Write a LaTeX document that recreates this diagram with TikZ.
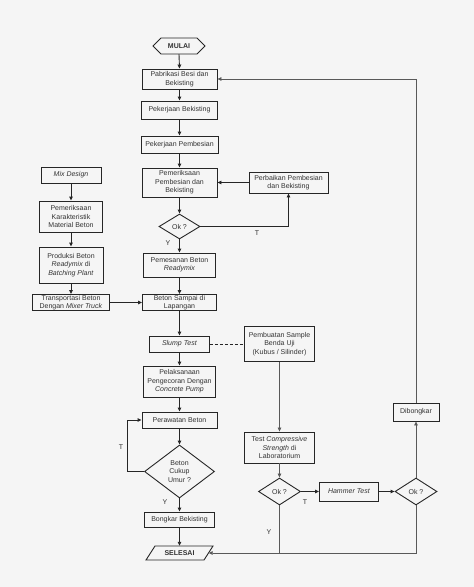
\documentclass[tikz,border=0pt]{standalone}
\usepackage{fontspec}
\setmainfont{Liberation Sans}
\usetikzlibrary{shapes.geometric,arrows.meta}
\begin{document}
\begin{tikzpicture}[x=1pt,y=-1pt,
  every node/.style={font=\fontsize{7}{8.6}\selectfont, text=black!80},
  box/.style={draw=black!85, line width=0.9pt, inner sep=0pt, align=center},
  dec/.style={diamond, draw=black!85, line width=0.9pt, inner sep=0pt, align=center},
  plain/.style={inner sep=0pt, align=center},
  arr/.style={draw=black!85, line width=0.9pt, -{Triangle[length=4pt,width=3.6pt]}},
  ln/.style={draw=black!85, line width=0.9pt},
  garr/.style={draw=black!65, line width=0.7pt, -{Triangle[length=4pt,width=3.6pt]}},
  gln/.style={draw=black!65, line width=0.7pt},
  lbl/.style={inner sep=0pt, font=\fontsize{7}{8}\selectfont}]
\fill[black!4] (0,0) rectangle (474,587);
\useasboundingbox (0,0) rectangle (474,587);

% start / end shapes
\draw[box] (153,46) -- (161,38) -- (197,38) -- (205,46) -- (197,54) -- (161,54) -- cycle;
\node[plain, minimum width=52pt, minimum height=16pt, font=\fontsize{7}{8.6}\selectfont\bfseries] (mulai) at (179,46) {MULAI};
\draw[box] (146,560) -- (155,546) -- (213,546) -- (204,560) -- cycle;
\node[plain, minimum width=58pt, minimum height=14pt, font=\fontsize{7}{8.6}\selectfont\bfseries] (sls) at (179.5,553) {SELESAI};

% main column
\node[box, minimum width=75pt, minimum height=20pt] (pab) at (179.5,79) {Pabrikasi Besi dan\\Bekisting};
\node[box, minimum width=76pt, minimum height=18pt] (pbk) at (179.5,110) {Pekerjaan Bekisting};
\node[box, minimum width=77pt, minimum height=17pt] (ppb) at (179.5,144.5) {Pekerjaan Pembesian};
\node[box, minimum width=75pt, minimum height=29pt] (pmr) at (179.5,182.5) {Pemeriksaan\\Pembesian dan\\Bekisting};
\node[box, minimum width=79pt, minimum height=21pt] (pbr) at (288.5,182.5) {Perbaikan Pembesian\\dan Bekisting};
\node[dec, minimum width=41pt, minimum height=25pt] (ok1) at (179.5,226.5) {Ok ?};
\node[box, minimum width=72pt, minimum height=24pt] (pms) at (179.5,265) {Pemesanan Beton\\\textit{Readymix}};
\node[box, minimum width=74pt, minimum height=16pt] (bsp) at (179.5,302.5) {Beton Sampai di\\Lapangan};
\node[box, minimum width=60pt, minimum height=16pt] (slp) at (179.5,344) {\textit{Slump Test}};
\node[box, minimum width=72pt, minimum height=31pt] (plk) at (179.5,381.5) {Pelaksanaan\\Pengecoran Dengan\\\textit{Concrete Pump}};
\node[box, minimum width=75pt, minimum height=16pt] (prw) at (179.5,420) {Perawatan Beton};
\node[dec, minimum width=70pt, minimum height=53pt] (bcu) at (179.5,471.5) {Beton\\Cukup\\Umur ?};
\node[box, minimum width=70pt, minimum height=15pt] (bgk) at (179.5,519.5) {Bongkar Bekisting};

% left column
\node[box, minimum width=60pt, minimum height=16pt] (mix) at (71,175) {\textit{Mix Design}};
\node[box, minimum width=63pt, minimum height=31pt] (kar) at (71,216.5) {Pemeriksaan\\Karakteristik\\Material Beton};
\node[box, minimum width=64pt, minimum height=36pt] (prd) at (71,265) {Produksi Beton\\\textit{Readymix} di\\\textit{Batching Plant}};
\node[box, minimum width=77pt, minimum height=16pt] (trn) at (71,302.5) {Transportasi Beton\\Dengan \textit{Mixer Truck}};

% right part
\node[box, minimum width=70pt, minimum height=35pt] (pbs) at (279.5,344) {Pembuatan Sample\\Benda Uji\\(Kubus / Silinder)};
\node[box, minimum width=70pt, minimum height=31pt] (tcs) at (279.5,447.5) {Test \textit{Compressive}\\\textit{Strength} di\\Laboratorium};
\node[dec, minimum width=42pt, minimum height=27pt] (ok2) at (279.5,491.5) {Ok ?};
\node[box, minimum width=59pt, minimum height=19pt] (hmt) at (349,491.5) {\textit{Hammer Test}};
\node[dec, minimum width=42pt, minimum height=27pt] (ok3) at (416,491.5) {Ok ?};
\node[box, minimum width=46pt, minimum height=18pt] (dbk) at (416,412) {Dibongkar};

% main flow connectors
\draw[arr] (mulai.south) -- (pab.north);
\draw[arr] (pab) -- (pbk);
\draw[arr] (pbk) -- (ppb);
\draw[arr] (ppb) -- (pmr);
\draw[arr] (pmr) -- (ok1);
\draw[arr] (ok1.east) -| (pbr.south);
\draw[arr] (pbr.west) -- (pmr.east);
\draw[arr] (ok1) -- (pms);
\draw[arr] (pms) -- (bsp);
\draw[arr] (bsp) -- (slp);
\draw[arr] (slp) -- (plk);
\draw[arr] (plk) -- (prw);
\draw[arr] (prw) -- (bcu);
\draw[arr] (bcu.west) -- ++(-17,0) |- (prw.west);
\draw[arr] (bcu) -- (bgk);
\draw[arr] (bgk.south) -- (sls.north);

% left column connectors
\draw[arr] (mix) -- (kar);
\draw[arr] (kar) -- (prd);
\draw[arr] (prd) -- (trn);
\draw[arr] (trn.east) -- (bsp.west);

% testing branch
\draw[ln, dashed, dash pattern=on 3pt off 2pt] (slp.east) -- (pbs.west);
\draw[garr] (pbs) -- (tcs);
\draw[garr] (tcs) -- (ok2);
\draw[arr] (ok2.east) -- (hmt.west);
\draw[arr] (hmt.east) -- (ok3.west);
\draw[garr] (ok3.north) -- (dbk.south);
\draw[garr] (dbk.north) |- (pab.east);
\draw[garr] (ok3.south) |- (sls.east);
\draw[gln] (ok2.south) -- (ok2.south |- sls.east);

% labels
\node[lbl] (t1) at (257,233) {T};
\node[lbl] (y1) at (168,243) {Y};
\node[lbl] (t2) at (121,447) {T};
\node[lbl] (y2) at (165,502) {Y};
\node[lbl] (t3) at (305,502) {T};
\node[lbl] (y3) at (269,532) {Y};
\end{tikzpicture}
\end{document}
